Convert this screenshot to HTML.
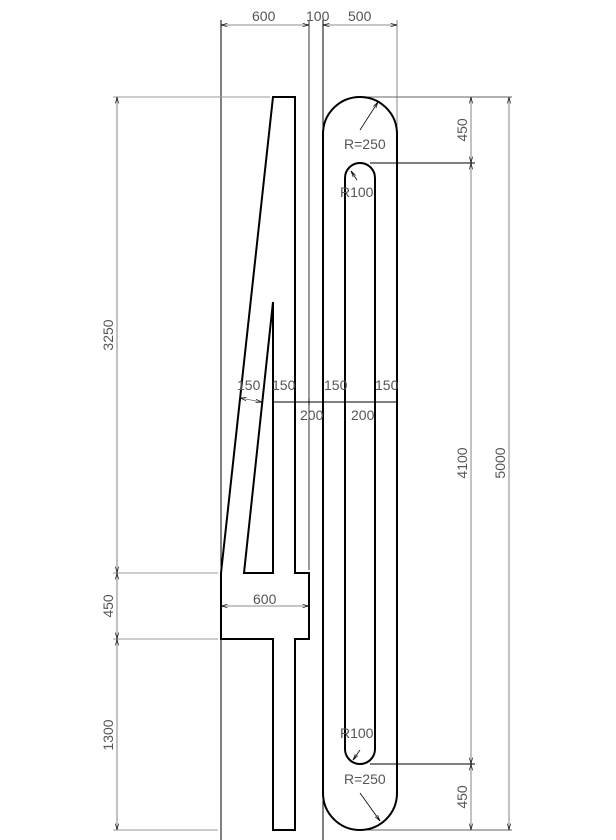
<!DOCTYPE html>
<html><head><style>body{margin:0;background:#fff}svg{display:block}text{font-family:"Liberation Sans",sans-serif;font-size:14px;fill:#555}</style></head><body>
<svg width="616" height="840" viewBox="0 0 616 840">
<defs><marker id="a" markerWidth="8" markerHeight="6" refX="8" refY="3" orient="auto-start-reverse"><path d="M0,1 L8,3 L0,5" fill="none" stroke="#000" stroke-width="0.8"/></marker></defs>
<g stroke="#000" stroke-width="1" fill="none">
<line x1="221" y1="20" x2="221" y2="840"/>
<line x1="309" y1="20" x2="309" y2="570" stroke-width="0.8"/>
<line x1="323" y1="20" x2="323" y2="840"/>
<line x1="397" y1="20" x2="397" y2="130" stroke="#888"/>
<line x1="113" y1="97" x2="270" y2="97" stroke="#999"/>
<line x1="113" y1="573" x2="218" y2="573" stroke="#999"/>
<line x1="113" y1="639" x2="218" y2="639" stroke="#999"/>
<line x1="113" y1="830" x2="218" y2="830" stroke="#999"/>
<line x1="360" y1="97" x2="512" y2="97" stroke="#666"/>
<line x1="370" y1="163" x2="475" y2="163"/>
<line x1="370" y1="764" x2="475" y2="764"/>
<line x1="360" y1="830" x2="512" y2="830" stroke="#666"/>
<g stroke="#666" stroke-width="0.8">
<line x1="221" y1="25" x2="309" y2="25" marker-start="url(#a)" marker-end="url(#a)"/>
<line x1="323" y1="25" x2="397" y2="25" marker-start="url(#a)" marker-end="url(#a)"/>
<line x1="117" y1="97" x2="117" y2="573" marker-start="url(#a)" marker-end="url(#a)"/>
<line x1="117" y1="573" x2="117" y2="639" marker-start="url(#a)" marker-end="url(#a)"/>
<line x1="117" y1="639" x2="117" y2="830" marker-start="url(#a)" marker-end="url(#a)"/>
<line x1="471" y1="97" x2="471" y2="163" marker-start="url(#a)" marker-end="url(#a)"/>
<line x1="471" y1="163" x2="471" y2="764" marker-start="url(#a)" marker-end="url(#a)"/>
<line x1="471" y1="764" x2="471" y2="830" marker-start="url(#a)" marker-end="url(#a)"/>
<line x1="509" y1="97" x2="509" y2="830" marker-start="url(#a)" marker-end="url(#a)"/>
<line x1="221" y1="606" x2="309" y2="606" marker-start="url(#a)" marker-end="url(#a)"/>
<line x1="240" y1="398" x2="262" y2="402" marker-start="url(#a)" marker-end="url(#a)"/>
</g>
<line x1="273" y1="402" x2="397" y2="402"/>
<g stroke-width="0.8"><line x1="295" y1="399" x2="295" y2="405"/><line x1="309" y1="399" x2="309" y2="405"/><line x1="323" y1="399" x2="323" y2="405"/><line x1="345" y1="399" x2="345" y2="405"/><line x1="375" y1="399" x2="375" y2="405"/></g>
<line x1="360" y1="130" x2="378" y2="102" stroke-width="0.8" marker-end="url(#a)"/>
<line x1="357" y1="180" x2="351" y2="171" stroke-width="0.8" marker-end="url(#a)"/>
<line x1="360" y1="750" x2="353" y2="760" stroke-width="0.8" marker-end="url(#a)"/>
<line x1="360" y1="793" x2="380" y2="821" stroke-width="0.8" marker-end="url(#a)"/>
<g stroke-width="2">
<path d="M273,97 L295,97 L295,573 L309,573 L309,639 L295,639 L295,830 L273,830 L273,639 L221,639 L221,573 Z"/>
<path d="M273,302 L273,573 L244,573 Z"/>
<path d="M323,134 A37,37 0 0 1 397,134 L397,793 A37,37 0 0 1 323,793 Z"/>
<path d="M345,178 A15,15 0 0 1 375,178 L375,749 A15,15 0 0 1 345,749 Z"/>
</g>
</g>
<text x="252" y="21">600</text><text x="306" y="21">100</text><text x="348" y="21">500</text>
<text x="344" y="149">R=250</text><text x="340" y="197">R100</text>
<text x="340" y="738">R100</text><text x="344" y="784">R=250</text>
<text x="237" y="390">150</text><text x="272" y="390">150</text><text x="324" y="390">150</text><text x="375" y="390">150</text>
<text x="300" y="420">200</text><text x="351" y="420">200</text>
<text x="253" y="604">600</text>
<g text-anchor="middle">
<text transform="translate(113,335) rotate(-90)">3250</text>
<text transform="translate(113,606) rotate(-90)">450</text>
<text transform="translate(113,735) rotate(-90)">1300</text>
<text transform="translate(467,130) rotate(-90)">450</text>
<text transform="translate(467,463) rotate(-90)">4100</text>
<text transform="translate(467,797) rotate(-90)">450</text>
<text transform="translate(505,463) rotate(-90)">5000</text>
</g>
</svg>
</body></html>
